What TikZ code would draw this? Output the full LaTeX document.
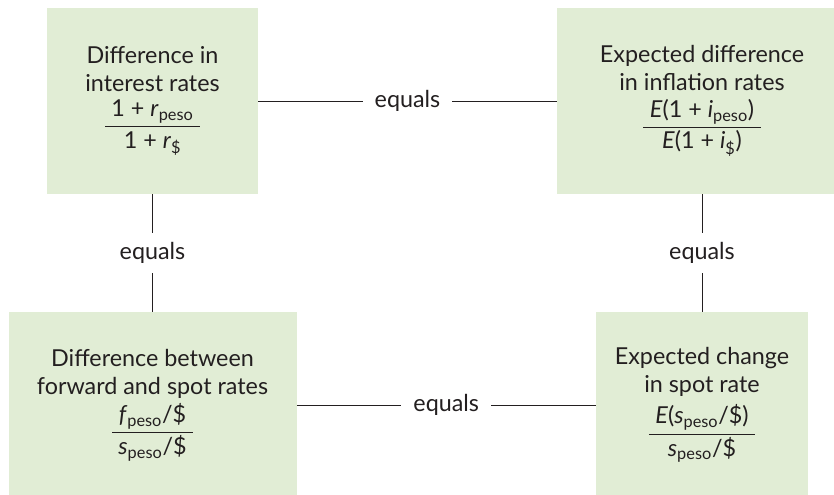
\documentclass[tikz,border=0pt]{standalone}
\usepackage{fontspec}
\setmainfont{Lato}
\usepackage{amsmath}
\usetikzlibrary{positioning}

\definecolor{boxgreen}{RGB}{225,237,213}
\definecolor{inkgray}{RGB}{35,31,32}

\begin{document}
\begin{tikzpicture}[x=0.75pt,y=0.75pt,yscale=-1,xscale=1,
  ratebox/.style={fill=boxgreen, draw=none, align=center, text=inkgray, inner sep=0pt, minimum height=139.5pt, font=\fontsize{17.5}{21}\selectfont},
  eqlabel/.style={fill=white, text=inkgray, inner xsep=9pt, inner ysep=7pt, font=\fontsize{17.5}{21}\selectfont},
  link/.style={draw=inkgray, line width=0.75}]
\useasboundingbox (0,0) rectangle (834,494);

% Text Node
\node [ratebox, minimum width=158.25pt] (interest) at (152.5,101) {Difference in\\interest rates\\[5pt]
  $\dfrac{\;\text{1 + \textit{r}}_{\text{peso}}\;}{\text{1 + \textit{r}}_{\text{\$}}}$};
% Text Node
\node [ratebox, minimum width=217.5pt] (inflation) at (702,101) {Expected difference\\in inflation rates\\[5pt]
  $\dfrac{\;\text{\textit{E}(1 + \textit{i}}_{\text{peso}}\text{)}\;}{\text{\textit{E}(1 + \textit{i}}_{\text{\$}}\text{)}}$};
% Text Node
\node [ratebox, minimum width=216pt] (forward) at (152.5,405) {Difference between\\forward and spot rates\\[3pt]
  $\dfrac{\;\text{\textit{f}}_{\text{peso}}\text{/\$}\;}{\text{\textit{s}}_{\text{peso}}\text{/\$}}$};
% Text Node
\node [ratebox, minimum width=159pt] (spot) at (702,405) {Expected change\\in spot rate\\[5pt]
  $\dfrac{\;\text{\textit{E}(\textit{s}}_{\text{peso}}\text{/\$)}\;}{\text{\textit{s}}_{\text{peso}}\text{/\$}}$};

%Straight Lines
\draw [link] (interest) -- node [eqlabel] {equals} (inflation);
\draw [link] (forward) -- node [eqlabel] {equals} (spot);
\draw [link] (interest) -- node [eqlabel] {equals} (forward);
\draw [link] (inflation) -- node [eqlabel] {equals} (spot);

\end{tikzpicture}
\end{document}
